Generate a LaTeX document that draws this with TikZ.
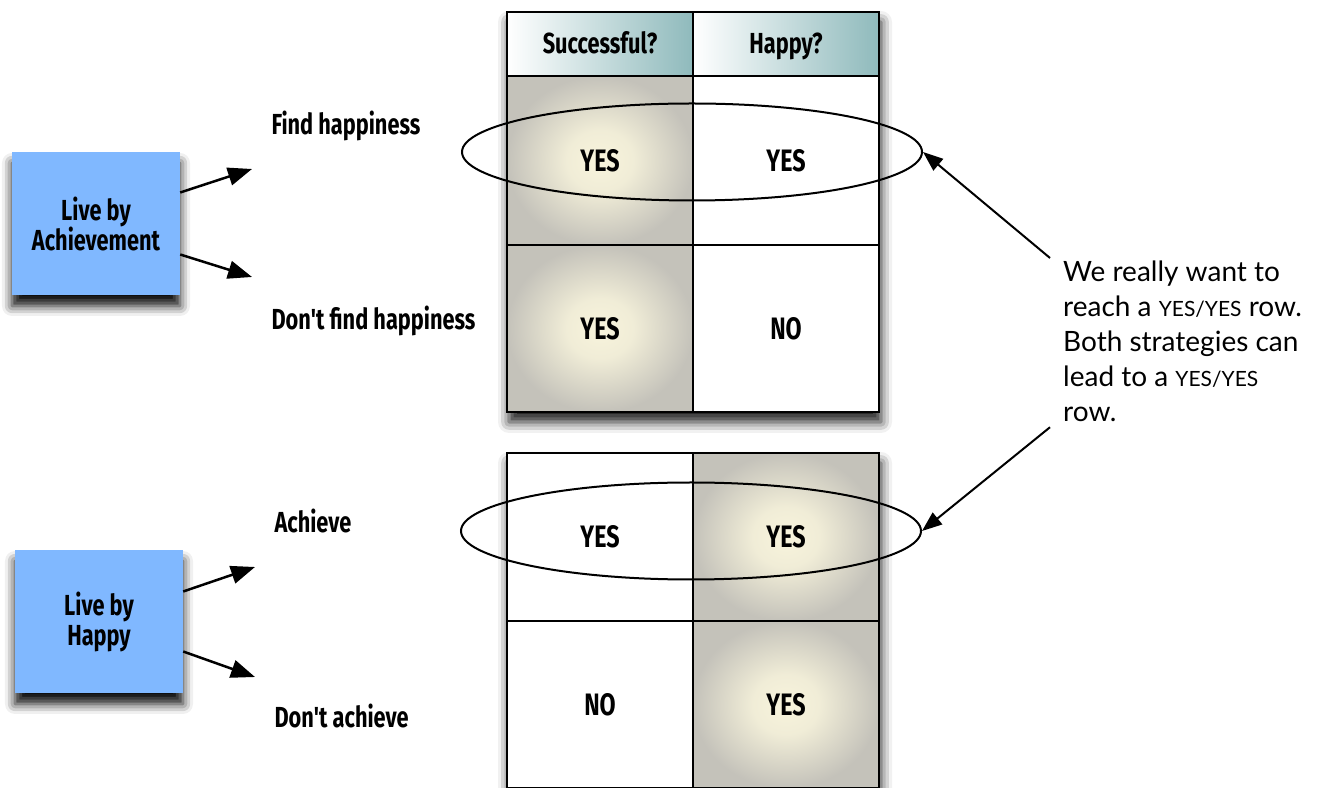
\documentclass[tikz,border=0pt]{standalone}
\usepackage{fontspec}
\setmainfont{Lato}
\newfontfamily\handfont{Fira Sans}[FakeStretch=0.75]
\usetikzlibrary{arrows.meta,shapes.geometric,shadows.blur,backgrounds}

\definecolor{planblue}{RGB}{128,184,255}
\definecolor{glowin}{RGB}{248,244,220}
\definecolor{glowout}{RGB}{196,194,186}
\definecolor{headteal}{RGB}{143,186,188}

% soft light in the shaded cells
\pgfdeclareradialshading{cellglow}{\pgfpoint{0bp}{0bp}}{color(0bp)=(glowin); color(9bp)=(glowin!85!glowout);
    color(25bp)=(glowout); color(50bp)=(glowout)}

% small capitals for the note
\newcommand{\fakesc}[1]{{\fontsize{21}{35}\selectfont #1}}

\tikzset{
    hand/.style={font=\handfont\bfseries\fontsize{29}{30}\selectfont},
    cell/.style={draw, line width=2.5pt, minimum width=186pt, inner sep=0pt, outer sep=0pt,
        font=\handfont\bfseries\fontsize{31}{32}\selectfont},
    headcell/.style={cell, hand, minimum height=64pt, text height=20pt, text depth=0pt,
        left color=white, right color=headteal},
    glow/.style={shading=cellglow},
    plan/.style={fill=planblue, minimum width=168pt, minimum height=143pt, align=center, hand,
        blur shadow={shadow xshift=0pt, shadow yshift=-11pt, shadow blur radius=10pt, shadow opacity=95}},
    ring/.style={ellipse, draw, line width=2pt, minimum width=460pt, minimum height=97pt, inner sep=0pt},
    pick/.style={-{Triangle[length=24pt,width=18pt]}, line width=2.5pt},
    point/.style={-{Triangle[length=20pt,width=15pt,fill=black]}, line width=2pt, draw=black},
    tableshadow/.style={fill=white, blur shadow={shadow xshift=2pt, shadow yshift=-10pt,
        shadow blur radius=11pt, shadow opacity=90}},
}

\begin{document}
\begin{tikzpicture}[x=1pt, y=1pt]
    \useasboundingbox (0,0) rectangle (1317,787);

    % the two strategies
    \node [plan] (achieve) at (96,563.5) {Live by\\Achievement};
    \node [plan] (happy) at (99,165.5) {Live by\\Happy};

    \coordinate (findtip) at (252,618);
    \coordinate (nofindtip) at (252,510);
    \coordinate (achtip) at (255,220);
    \coordinate (noachtip) at (255,110);

    \draw [pick] ([yshift=31pt]achieve.east) -- (findtip);
    \draw [pick] ([yshift=-31pt]achieve.east) -- (nofindtip);
    \draw [pick] ([yshift=30pt]happy.east) -- (achtip);
    \draw [pick] ([yshift=-30pt]happy.east) -- (noachtip);

    \node [hand, anchor=base west] (find) at (268,652) {Find happiness};
    \node [hand, anchor=base west] (nofind) at (268,457) {Don't find happiness};
    \node [hand, anchor=base west] (ach) at (271,254) {Achieve};
    \node [hand, anchor=base west] (noach) at (271,59) {Don't achieve};

    % upper table
    \node [headcell] (succhead) at (600,743) {Successful?};
    \node [headcell] (happyhead) at (786,743) {Happy?};
    \node [cell, glow, minimum height=169pt] (succA) at (600,626.5) {YES};
    \node [cell, minimum height=169pt] (happyA) at (786,626.5) {YES};
    \node [cell, glow, minimum height=167pt] (succB) at (600,458.5) {YES};
    \node [cell, minimum height=167pt] (happyB) at (786,458.5) {NO};

    % lower table
    \node [cell, minimum height=168pt] (succC) at (600,250) {YES};
    \node [cell, glow, minimum height=168pt] (happyC) at (786,250) {YES};
    \node [cell, minimum height=167pt] (succD) at (600,82.5) {NO};
    \node [cell, glow, minimum height=167pt] (happyD) at (786,82.5) {YES};

    \begin{pgfonlayer}{background}
        \path [tableshadow] (succhead.north west) rectangle (happyB.south east);
        \path [tableshadow] (succC.north west) rectangle (happyD.south east);
    \end{pgfonlayer}

    % the yes/yes rows
    \node [ring] (topring) at (692,635) {};
    \node [ring] (lowring) at (691,256) {};

    \node [anchor=north west, inner sep=0pt, align=left, font=\fontsize{28}{35}\selectfont] (note) at (1063,526)
        {We really want to\\reach a \fakesc{YES/YES} row.\\Both strategies can\\lead to a \fakesc{YES/YES}\\row.};

    \draw [point] ([shift={(-13pt,3pt)}]note.north west) -- (topring.east);
    \draw [point] ([shift={(-13pt,-5pt)}]note.south west) -- (lowring.east);
\end{tikzpicture}
\end{document}
